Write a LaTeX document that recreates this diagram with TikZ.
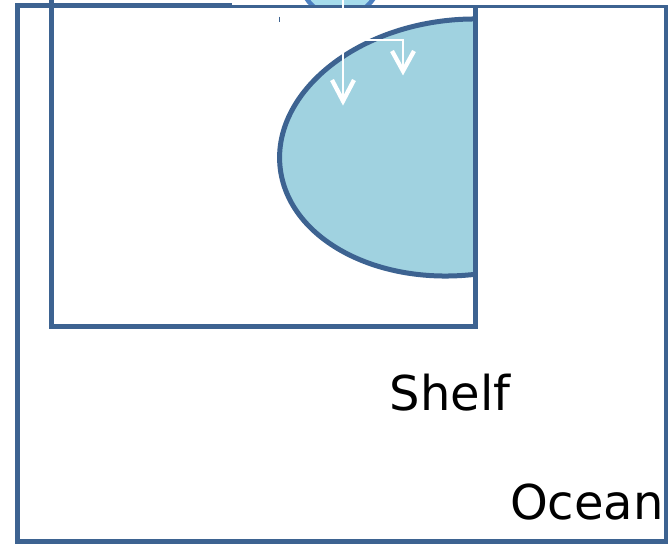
\documentclass[tikz,border=0pt]{standalone}
\usepackage{fontspec}
\setmainfont{DejaVu Sans}
\usetikzlibrary{calc}
\begin{document}
\begin{tikzpicture}[x=1pt,y=-1pt]
\definecolor{frameblue}{HTML}{3D6391}
\definecolor{shelffill}{HTML}{A0D2E0}
\definecolor{blobfill}{HTML}{A6DCEC}
\definecolor{blobline}{HTML}{4C80C0}
\tikzset{
  frame/.style={draw=frameblue, line width=4.6},
  lens/.style={draw=frameblue, fill=shelffill, line width=5},
  flowline/.style={draw=white, line width=2.4},
  flowhead/.style={draw=white, line width=4.3, miter limit=10},
  label/.style={font=\fontsize{48}{52}\selectfont, inner sep=0, anchor=base west}
}
\useasboundingbox (0,0) rectangle (668,543);
% outer frame (ocean)
\draw[frame] (17.5,5.3) rectangle (666.5,541.5);
% ice-shelf ellipse, clipped by the inner frame
\begin{scope}
  \clip (0,0) rectangle (475,543);
  \begin{scope}[shift={(460,147.5)}, rotate=6.45]
    \draw[lens] (0,0) ellipse [x radius=181, y radius=127.7];
  \end{scope}
\end{scope}
% inner frame (shelf)
\draw[frame, line width=5] (51.5,-10) rectangle (475,326.5);
% white cover above the top edge
\fill[white] (232,-2) rectangle (670,4.8);
% blob at the top
\begin{scope}
  \clip (0,-2) rectangle (668,5);
  \draw[draw=blobline, fill=blobfill, line width=4.5] (340,-24) circle [radius=40.4];
\end{scope}
% white flow arrows
\coordinate (src) at (343,-1);
\coordinate (split) at (343,40);
\coordinate (tipA) at (343,101);
\coordinate (corner) at (403,40);
\coordinate (tipB) at (403,71);
\draw[flowline] (src) -- (tipA);
\draw[flowline] (split) -- (corner) -- (tipB);
\draw[flowhead] ($(tipA)+(-11,-21)$) -- (tipA) -- ($(tipA)+(11,-21)$);
\draw[flowhead] ($(tipB)+(-11,-20)$) -- (tipB) -- ($(tipB)+(11,-20)$);
% small tick
\coordinate (tickA) at (279.3,16.7);
\coordinate (tickB) at (279.3,22);
\draw[frameblue, line width=1] (tickA) -- (tickB);
% labels
\node[label] (shelf) at (389.5,410) {Shelf};
\node[label] (ocean) at (510,519.5) {Ocean};
\end{tikzpicture}
\end{document}
